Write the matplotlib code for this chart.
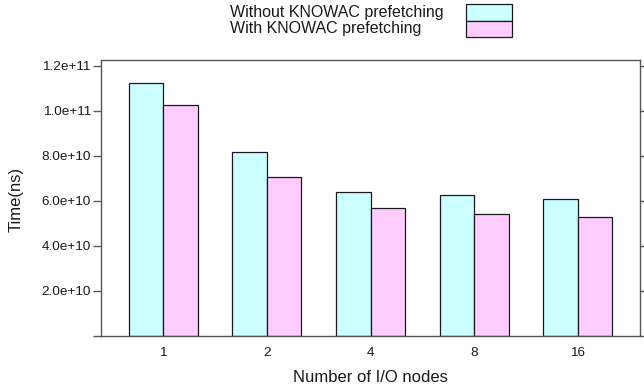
#!/usr/bin/env python3
import matplotlib
matplotlib.use("Agg")
import matplotlib.pyplot as plt
import numpy as np
from matplotlib.patches import Rectangle
from matplotlib.ticker import FuncFormatter

# values
nodes = ["1", "2", "4", "8", "16"]
without_prefetch = [1.125e11, 8.18e10, 6.41e10, 6.26e10, 6.07e10]
with_prefetch = [1.026e11, 7.07e10, 5.67e10, 5.40e10, 5.30e10]
series_labels = ["Without KNOWAC prefetching", "With KNOWAC prefetching"]
yticks = [0, 2e10, 4e10, 6e10, 8e10, 1.0e11, 1.2e11]

CYAN = "#ccffff"
PINK = "#ffccff"
EDGE = "#1a1a1a"
AXIS = "#555555"

plt.rcParams["font.family"] = ["Liberation Sans", "DejaVu Sans"]

W, H = 644, 387
fig = plt.figure(figsize=(W / 100, H / 100), dpi=100)
ax = fig.add_axes([101 / W, 1 - 336 / H, (640 - 101) / W, (336 - 60) / H])

x = np.arange(len(nodes))
width = 1 / 3
ax.bar(x - width / 2, without_prefetch, width, color=CYAN, edgecolor=EDGE, linewidth=0.9)
ax.bar(x + width / 2, with_prefetch, width, color=PINK, edgecolor=EDGE, linewidth=0.9)

ax.set_xlim(-0.6, len(nodes) - 0.4)
ax.set_ylim(0, 1.2253e11)
ax.set_xticks(x)
ax.set_xticklabels(nodes)
ax.set_yticks(yticks)
ax.yaxis.set_major_formatter(FuncFormatter(lambda v, _: "" if v == 0 else f"{v:.1e}"))

for spine in ax.spines.values():
    spine.set_color(AXIS)
    spine.set_linewidth(1.0)

ax.tick_params(axis="x", length=0, pad=8, labelsize=9.7, colors="#1a1a1a")
ax.tick_params(axis="y", which="both", left=True, right=True, direction="out",
               length=5.8, width=1.0, color=AXIS, pad=1.5, labelsize=9.7,
               labelcolor="#1a1a1a")

fig.text(16 / W, 1 - 199 / H, "Time(ns)", rotation=90, ha="center", va="center",
         fontsize=12, color="#1a1a1a")
fig.text(370 / W, 1 - 378 / H, "Number of I/O nodes", ha="center", va="center",
         fontsize=12, color="#1a1a1a")

# gnuplot style key: text on the left, colour boxes stacked at the right
box_left, box_w, box_h, box_top = 466, 46, 16.2, 4.5
for i, (label, color) in enumerate(zip(series_labels, [CYAN, PINK])):
    top = box_top + i * box_h
    fig.patches.append(Rectangle((box_left / W, 1 - (top + box_h) / H), box_w / W, box_h / H,
                                 transform=fig.transFigure, facecolor=color,
                                 edgecolor=EDGE, linewidth=0.9))
    fig.text(230 / W, 1 - (top + box_h / 2) / H, label, ha="left", va="center",
             fontsize=11.5, color="#1a1a1a")

fig.savefig("out.png", dpi=100)
